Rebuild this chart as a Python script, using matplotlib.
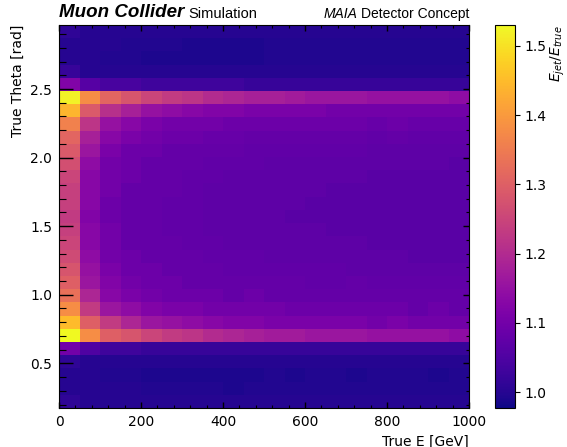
import numpy as np
import matplotlib
matplotlib.use("Agg")
import matplotlib.pyplot as plt
from matplotlib.ticker import MultipleLocator
from matplotlib.transforms import offset_copy

# ---- data ----
energy_edges = np.arange(0, 1001, 50)              # 20 bins of 50 GeV
theta_edges = np.linspace(0.1745, 2.967, 30)       # 29 theta bins (10deg..170deg)

# E_jet/E_true, rows from low theta (bottom) to high theta (top)
ratio = [
    [1.01,1.00,1.00,1.00,1.00,1.00,1.00,1.00,1.00,1.00,1.00,1.00,1.00,1.00,1.00,1.00,1.00,1.00,1.00,1.00],
    [1.00,1.00,1.00,1.00,0.995,0.995,0.995,0.995,0.99,0.995,0.995,0.995,0.995,0.995,0.995,0.995,0.995,0.995,0.995,0.995],
    [1.00,1.00,0.995,0.995,0.99,0.99,0.99,0.99,0.99,0.99,0.995,0.99,0.995,0.995,0.99,0.995,0.995,0.995,0.99,0.995],
    [1.01,1.00,1.00,1.00,1.00,1.00,1.00,1.00,1.00,1.00,1.00,1.00,1.00,1.00,1.00,1.00,1.00,1.00,1.00,1.00],
    [1.10,1.05,1.03,1.03,1.02,1.02,1.02,1.02,1.02,1.02,1.02,1.02,1.02,1.02,1.02,1.02,1.02,1.02,1.02,1.02],
    [1.53,1.38,1.30,1.28,1.25,1.23,1.22,1.20,1.19,1.18,1.17,1.17,1.16,1.16,1.16,1.15,1.15,1.15,1.15,1.14],
    [1.45,1.30,1.23,1.19,1.16,1.15,1.14,1.13,1.12,1.12,1.11,1.11,1.11,1.11,1.11,1.10,1.11,1.10,1.10,1.10],
    [1.38,1.23,1.16,1.14,1.12,1.11,1.11,1.10,1.10,1.10,1.10,1.09,1.09,1.09,1.09,1.09,1.09,1.08,1.09,1.08],
    [1.33,1.19,1.13,1.11,1.10,1.09,1.09,1.09,1.08,1.09,1.08,1.08,1.08,1.08,1.08,1.08,1.08,1.08,1.08,1.08],
    [1.30,1.16,1.12,1.10,1.09,1.09,1.08,1.08,1.08,1.08,1.08,1.08,1.075,1.075,1.08,1.075,1.075,1.075,1.075,1.075],
    [1.28,1.15,1.11,1.09,1.09,1.08,1.08,1.08,1.075,1.075,1.075,1.075,1.075,1.075,1.07,1.07,1.07,1.07,1.07,1.07],
    [1.26,1.14,1.10,1.09,1.08,1.08,1.08,1.075,1.075,1.075,1.07,1.07,1.07,1.07,1.07,1.07,1.07,1.065,1.065,1.065],
    [1.25,1.13,1.10,1.08,1.08,1.08,1.075,1.075,1.07,1.07,1.07,1.07,1.07,1.07,1.07,1.065,1.065,1.065,1.065,1.065],
    [1.24,1.13,1.10,1.08,1.08,1.075,1.075,1.07,1.07,1.07,1.07,1.07,1.07,1.065,1.065,1.065,1.065,1.065,1.065,1.065],
    [1.23,1.12,1.09,1.08,1.08,1.075,1.075,1.07,1.07,1.07,1.07,1.065,1.065,1.065,1.065,1.065,1.065,1.065,1.065,1.065],
    [1.24,1.13,1.09,1.08,1.08,1.075,1.075,1.07,1.07,1.07,1.07,1.07,1.065,1.065,1.065,1.065,1.065,1.065,1.065,1.065],
    [1.24,1.13,1.10,1.08,1.08,1.08,1.075,1.07,1.07,1.07,1.07,1.07,1.07,1.065,1.065,1.065,1.065,1.065,1.065,1.065],
    [1.25,1.13,1.10,1.09,1.08,1.08,1.075,1.075,1.07,1.07,1.07,1.07,1.07,1.07,1.07,1.065,1.065,1.065,1.065,1.065],
    [1.27,1.14,1.10,1.09,1.08,1.08,1.08,1.075,1.075,1.075,1.07,1.07,1.07,1.07,1.07,1.07,1.07,1.07,1.07,1.065],
    [1.29,1.16,1.11,1.09,1.09,1.08,1.08,1.08,1.08,1.075,1.075,1.075,1.075,1.075,1.075,1.07,1.07,1.07,1.07,1.07],
    [1.31,1.18,1.13,1.11,1.10,1.09,1.09,1.085,1.085,1.08,1.08,1.08,1.08,1.08,1.08,1.075,1.08,1.075,1.075,1.075],
    [1.36,1.22,1.15,1.13,1.11,1.10,1.10,1.10,1.09,1.09,1.09,1.09,1.09,1.09,1.09,1.085,1.09,1.085,1.085,1.085],
    [1.44,1.29,1.21,1.18,1.15,1.14,1.13,1.12,1.12,1.11,1.11,1.11,1.11,1.10,1.10,1.10,1.10,1.10,1.10,1.10],
    [1.52,1.38,1.31,1.28,1.25,1.23,1.22,1.20,1.19,1.18,1.18,1.17,1.16,1.16,1.16,1.15,1.15,1.15,1.15,1.14],
    [1.12,1.06,1.04,1.04,1.03,1.03,1.03,1.03,1.03,1.02,1.02,1.02,1.02,1.02,1.02,1.02,1.02,1.02,1.02,1.02],
    [1.02,1.00,1.00,1.00,1.00,1.00,1.00,1.00,1.00,1.00,1.00,1.00,1.00,1.00,1.00,1.00,1.00,1.00,1.00,1.00],
    [1.00,1.00,0.995,0.995,0.99,0.99,0.99,0.99,0.99,0.99,0.995,0.995,0.995,0.995,0.995,0.995,0.995,0.995,0.995,0.995],
    [1.00,1.00,1.00,0.995,0.995,0.995,0.99,0.99,0.99,0.99,0.995,0.995,0.995,0.995,0.995,0.995,0.995,0.995,0.995,0.995],
    [1.01,1.00,1.00,1.00,1.00,1.00,1.00,1.00,1.00,1.00,1.00,1.00,1.00,1.00,1.00,1.00,1.00,1.00,1.00,1.00],
]
cbar_ticks = [1.0, 1.1, 1.2, 1.3, 1.4, 1.5]

# ---- figure ----
W, H = 567, 447
fig = plt.figure(figsize=(W / 100, H / 100), dpi=100)
ax = fig.add_axes([59 / W, (H - 408) / H, 410 / W, 383 / H])
cax = fig.add_axes([495 / W, (H - 408) / H, 20 / W, 383 / H])

mesh = ax.pcolormesh(energy_edges, theta_edges, np.array(ratio),
                     cmap="plasma", vmin=0.977, vmax=1.53)
ax.set_xlim(0, 1000)
ax.set_ylim(theta_edges[0], theta_edges[-1])

ax.xaxis.set_major_locator(MultipleLocator(200))
ax.xaxis.set_minor_locator(MultipleLocator(40))
ax.yaxis.set_major_locator(MultipleLocator(0.5))
ax.yaxis.set_minor_locator(MultipleLocator(0.1))
ax.tick_params(axis="both", which="both", direction="in", top=True, right=True,
               labelsize=10, colors="black")
ax.tick_params(axis="y", which="major", length=10, width=1)
ax.tick_params(axis="y", which="minor", length=5, width=0.8)
ax.tick_params(axis="x", which="major", length=4, width=1)
ax.tick_params(axis="x", which="minor", length=2.5, width=0.8)
ax.tick_params(axis="both", which="major", pad=5)

ax.set_xlabel("True E [GeV]", loc="right", fontsize=10)
ax.set_ylabel("True Theta [rad]", loc="top", fontsize=10)

cb = fig.colorbar(mesh, cax=cax)
cb.set_ticks(cbar_ticks)
cb.ax.tick_params(labelsize=10, direction="out", length=3.5)
cb.ax.minorticks_off()
cb.set_label("$E_{jet}/E_{true}$", loc="top", fontsize=10, labelpad=1)
cb.outline.set_linewidth(0.8)

# ---- header texts ----
hdr = "Liberation Sans"
t1 = ax.text(0.0, 1.0, "Muon Collider", transform=offset_copy(ax.transAxes, fig=fig, y=3, units="points"),
             fontsize=13.5, fontweight="bold", fontstyle="italic", family=hdr,
             ha="left", va="bottom")
fig.canvas.draw()
r = fig.canvas.get_renderer()
bb = t1.get_window_extent(r)
x_px = bb.x1 + 4
ax.text(x_px / (W), bb.y0 / H, "Simulation", transform=fig.transFigure,
        fontsize=10.5, family=hdr, ha="left", va="bottom")

t3 = ax.text(1.0, 1.0, "Detector Concept", transform=offset_copy(ax.transAxes, fig=fig, y=3, units="points"),
             fontsize=10, family=hdr, ha="right", va="bottom")
fig.canvas.draw()
bb3 = t3.get_window_extent(r)
ax.text((bb3.x0 - 3) / W, bb3.y0 / H, "MAIA", transform=fig.transFigure,
        fontsize=10, family=hdr, fontstyle="italic", ha="right", va="bottom")

# shorter ticks on the right spine
for t in ax.yaxis.get_major_ticks():
    t.tick2line.set_markersize(4)
for t in ax.yaxis.get_minor_ticks():
    t.tick2line.set_markersize(2.5)

fig.savefig("out.png", dpi=100)
